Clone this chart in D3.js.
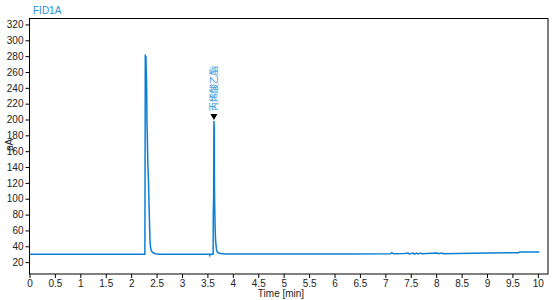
<!DOCTYPE html>
<html>
<head>
<meta charset="utf-8">
<script src="https://cdn.jsdelivr.net/npm/d3@7"></script>
<style>
  body { margin: 0; background: #fff; }
  text { font-family: "Liberation Sans", Arial, sans-serif; }
</style>
</head>
<body>
<div id="chart"></div>
<script>
// chromatogram signal: time (min) and signal (pA)
const times = [0, 2.270, 2.278, 2.284, 2.290, 2.296, 2.304, 2.310, 2.318, 2.326, 2.334, 2.342, 2.350, 2.358, 2.364, 2.370, 2.378, 2.390, 2.410, 2.440, 2.480, 2.550,
               3.540, 3.548, 3.556, 3.600, 3.612, 3.616, 3.622, 3.628, 3.634, 3.640, 3.646, 3.652, 3.660, 3.668, 3.678, 3.692, 3.720, 3.760, 3.850,
               5.00, 6.30, 7.10, 7.13, 7.16, 7.38, 7.45, 7.47, 7.55, 7.57, 7.62, 7.64, 7.70, 7.72, 8.02, 8.04, 8.12, 8.14, 9.00, 9.62, 9.64, 10.03];
const values = [30, 30, 282, 232, 280, 262, 245, 200, 178, 150, 133, 120, 96, 76, 61, 48, 40, 36, 33, 31.5, 30.5, 30,
                30, 28.5, 30, 30, 30, 84, 100, 198, 190, 103, 82, 62, 48, 42, 36, 33, 31.5, 30.8, 30.3,
                30.2, 30.2, 30.5, 31.8, 30.5, 30.8, 31.4, 30.2, 31.4, 30.2, 31.4, 30.3, 31.4, 30.5, 31.5, 30.6, 31.5, 30.5, 31.6, 31.8, 32.8, 32.8];

const yTicks = d3.range(20, 321, 20);
const xTicks = d3.range(0, 10.01, 0.5);

const peakTime = 3.628, peakValue = 198, peakName = "丙烯酸乙酯";

const width = 554, height = 300;
const margin = {top: 18.5, right: 6, bottom: 26, left: 29};

const svg = d3.select("#chart")
              .append("svg")
              .attr("width", width)
              .attr("height", height);

const x = d3.scaleLinear()
            .domain([0, 10.2])
            .range([margin.left + 0.5, width - margin.right]);

const y = d3.scaleLinear()
            .domain([5, 327.5])
            .range([height - margin.bottom, margin.top]);

// title
svg.append("text")
   .attr("x", 33)
   .attr("y", 14)
   .attr("fill", "#2a8fd6")
   .style("font-size", "10px")
   .text("FID1A");

// frame
svg.append("rect")
   .attr("x", margin.left + 0.5)
   .attr("y", margin.top)
   .attr("width", width - margin.right - margin.left - 0.5)
   .attr("height", height - margin.bottom - margin.top)
   .attr("fill", "none")
   .attr("stroke", "#000")
   .attr("stroke-width", 1);

// axes
const xAxis = svg.append("g")
   .attr("transform", `translate(0,${height - margin.bottom})`)
   .call(d3.axisBottom(x).tickValues(xTicks).tickSize(4).tickPadding(2)
          .tickFormat(d => d3.format("~g")(d)));

const yAxis = svg.append("g")
   .attr("transform", `translate(${margin.left + 0.5},0)`)
   .call(d3.axisLeft(y).tickValues(yTicks).tickSize(4).tickPadding(2));

[xAxis, yAxis].forEach(g => {
    g.select(".domain").remove();
    g.selectAll("text").style("font-size", "10px").attr("fill", "#222");
    g.selectAll("line").attr("stroke", "#000");
});

// axis titles
svg.append("text")
   .attr("x", 281)
   .attr("y", 297)
   .attr("text-anchor", "middle")
   .style("font-size", "10px")
   .attr("fill", "#222")
   .text("Time [min]");

svg.append("text")
   .attr("transform", `translate(13,145) rotate(-90)`)
   .attr("text-anchor", "middle")
   .style("font-size", "10px")
   .attr("fill", "#222")
   .text("pA");

// signal
const points = times.map((t, i) => ({t: t, v: values[i]}));

const line = d3.line()
               .x(d => x(d.t))
               .y(d => y(d.v));

svg.append("path")
   .datum(points)
   .attr("fill", "none")
   .attr("stroke", "#0a7fd2")
   .attr("stroke-width", 1.5)
   .attr("d", line);

// peak marker and label
const px = x(peakTime), py = y(peakValue) - 4;
svg.append("path")
   .attr("d", `M${px - 3.5},${py - 3} L${px + 3.5},${py - 3} L${px},${py + 3} Z`)
   .attr("fill", "#000");

svg.append("text")
   .attr("transform", `translate(${px + 3},${py - 6}) rotate(-90)`)
   .attr("fill", "#2a8fd6")
   .style("font-size", "9px")
   .style("font-family", "'Noto Sans CJK SC', sans-serif")
   .text(peakName);
</script>
</body>
</html>
